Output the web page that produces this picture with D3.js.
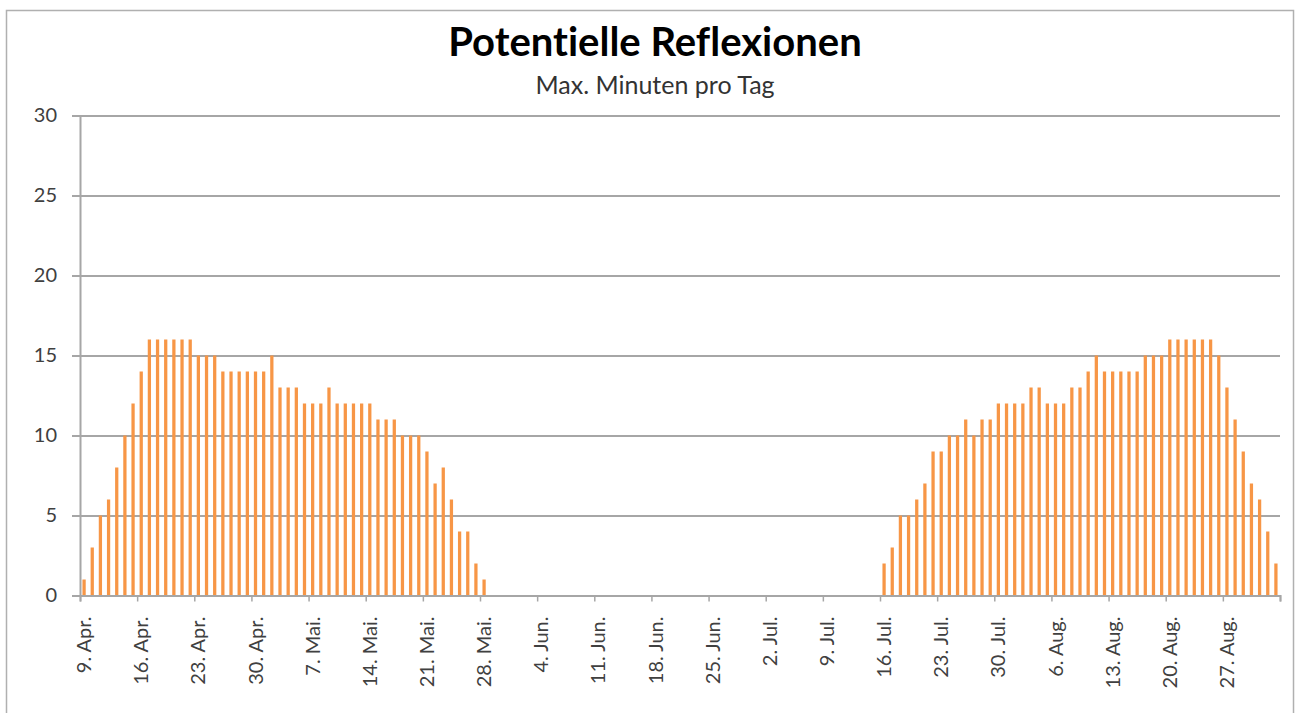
<!DOCTYPE html>
<html>
<head>
<meta charset="utf-8">
<script src="https://cdn.jsdelivr.net/npm/d3@7"></script>
<style>
  html, body { margin: 0; padding: 0; background: #fff; }
  svg { display: block; }
  text { font-family: Lato, "Open Sans", sans-serif; font-variant-ligatures: none; }
</style>
</head>
<body>
<svg id="chart" width="1298" height="713"></svg>
<script>
// ---- data ----
const numDays = 147;
// values for 9. Apr. – 28. Mai. (indices 0..49)
const springValues = [1,3,5,6,8,10,12,14,16,16,16,16,16,16,15,15,15,14,14,14,14,14,14,15,13,13,13,12,12,12,13,12,12,12,12,12,11,11,11,10,10,10,9,7,8,6,4,4,2,1];
// values for 16. Jul. – 2. Sep. (indices 98..146)
const summerValues = [2,3,5,5,6,7,9,9,10,10,11,10,11,11,12,12,12,12,13,13,12,12,12,13,13,14,15,14,14,14,14,14,15,15,15,16,16,16,16,16,16,15,13,11,9,7,6,4,2];
const summerStart = 98;
const tickLabels = ["9. Apr.","16. Apr.","23. Apr.","30. Apr.","7. Mai.","14. Mai.","21. Mai.","28. Mai.","4. Jun.","11. Jun.","18. Jun.","25. Jun.","2. Jul.","9. Jul.","16. Jul.","23. Jul.","30. Jul.","6. Aug.","13. Aug.","20. Aug.","27. Aug."];
const yTicks = [0,5,10,15,20,25,30];
const titleText = "Potentielle Reflexionen";
const subtitleText = "Max. Minuten pro Tag";

// build full daily series
const values = [];
for (let i = 0; i < numDays; i++) {
  let v = 0;
  if (i < springValues.length) v = springValues[i];
  else if (i >= summerStart && i - summerStart < summerValues.length) v = summerValues[i - summerStart];
  values.push({ i, v });
}

// ---- layout ----
const svg = d3.select("#chart");
const pLeft = 80, pRight = 1280, pTop = 115.5, pBottom = 595.5;

// outer border
svg.append("rect").attr("x", 6.5).attr("y", 10.5).attr("width", 1287).attr("height", 720)
  .attr("fill", "none").attr("stroke", "#b0b0b0").attr("stroke-width", 1.5);

const x = d3.scaleBand().domain(d3.range(numDays)).range([pLeft, pRight])
  .paddingInner(0.6).paddingOuter(0.3);
const xb = d3.scaleLinear().domain([0, numDays]).range([pLeft, pRight]);
const y = d3.scaleLinear().domain([0, 30]).range([pBottom, pTop]);

// gridlines
svg.append("g").attr("transform", `translate(${pLeft},0)`)
  .call(d3.axisLeft(y).tickValues(yTicks).tickSize(-(pRight - pLeft)).tickFormat(""))
  .call(g => g.select(".domain").remove())
  .call(g => g.selectAll("line").attr("stroke", "#a6a6a6").attr("stroke-width", 2));

// bars
svg.append("g").selectAll("rect").data(values.filter(d => d.v > 0)).join("rect")
  .attr("x", d => x(d.i))
  .attr("width", x.bandwidth())
  .attr("y", d => y(d.v))
  .attr("height", d => y(0) - y(d.v))
  .attr("fill", "#F79646");

// y axis
const ya = svg.append("g").attr("transform", `translate(${pLeft},0)`)
  .call(d3.axisLeft(y).tickValues(yTicks).tickSize(8).tickPadding(15));
ya.select(".domain").attr("stroke", "#a6a6a6").attr("stroke-width", 2);
ya.selectAll("line").attr("stroke", "#a6a6a6").attr("stroke-width", 2);
ya.selectAll("text").style("font-size", "20px").style("font-family", "Lato, sans-serif").style("fill", "#404040");

// x axis tick marks at category boundaries
const xa = svg.append("g").attr("transform", `translate(0,${pBottom})`)
  .call(d3.axisBottom(xb).tickValues(d3.range(0, numDays + 1, 7)).tickSize(6).tickFormat(""));
xa.select(".domain").attr("stroke", "#a6a6a6").attr("stroke-width", 2);
xa.selectAll("line").attr("stroke", "#a6a6a6").attr("stroke-width", 1.5);

// x labels (rotated), centered on the first day of each week
const xl = svg.append("g").attr("transform", `translate(0,${pBottom})`)
  .call(d3.axisBottom(x).tickValues(d3.range(0, numDays, 7)).tickSize(0)
    .tickFormat((d, k) => tickLabels[k]));
xl.select(".domain").remove();
xl.selectAll("text")
  .style("font-size", "20px").style("font-family", "Lato, sans-serif").style("fill", "#404040")
  .attr("text-anchor", "end")
  .attr("transform", "rotate(-90)")
  .attr("x", -21).attr("y", 0).attr("dy", "0.35em");

// titles
svg.append("text").attr("x", 655).attr("y", 56).attr("text-anchor", "middle")
  .style("font-size", "40px").style("font-weight", "bold").style("fill", "#000").text(titleText);
svg.append("text").attr("x", 655).attr("y", 94).attr("text-anchor", "middle")
  .style("font-size", "25px").style("fill", "#333").text(subtitleText);
</script>
</body>
</html>
